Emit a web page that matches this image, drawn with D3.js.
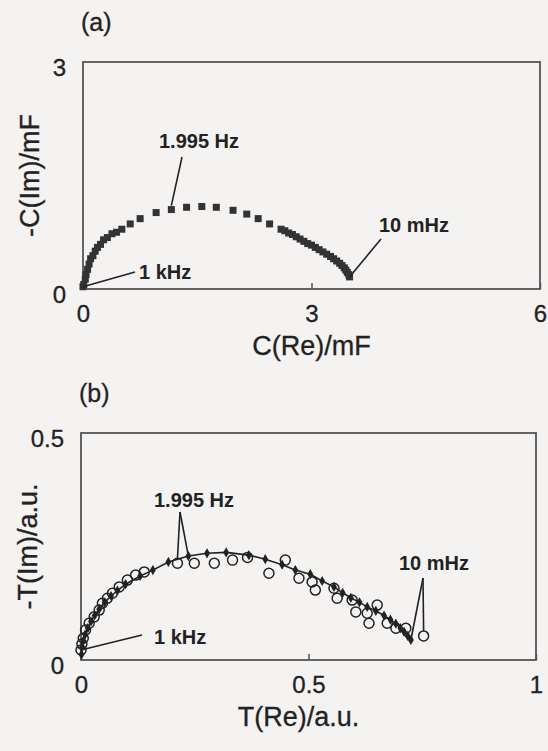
<!DOCTYPE html>
<html>
<head>
<meta charset="utf-8">
<script src="https://cdnjs.cloudflare.com/ajax/libs/d3/7.8.5/d3.min.js"></script>
<style>
    body { margin: 0; background: #f5f2f2; }
    svg { display: block; }
    text { font-family: "Liberation Sans", Arial, sans-serif; fill: #222; }
</style>
</head>
<body>
<svg id="chart" width="548" height="751"></svg>
<script>
// panel (a): complex capacitance, squares
var capRe = [0.00, 0.01, 0.03, 0.04, 0.06, 0.08, 0.10, 0.13, 0.16, 0.19, 0.23, 0.27, 0.32, 0.38,
    0.44, 0.51, 0.62, 0.75, 0.96, 1.16, 1.36, 1.56, 1.75, 1.97, 2.15, 2.30, 2.45,
    2.60, 2.65, 2.70, 2.75, 2.80, 2.85, 2.90, 2.95, 3.00, 3.05, 3.10, 3.15, 3.20, 3.25,
    3.29, 3.33, 3.37, 3.40, 3.43, 3.45, 3.47, 3.49, 3.50];
var capIm = [0.03, 0.06, 0.13, 0.19, 0.26, 0.33, 0.40, 0.44, 0.50, 0.55, 0.59, 0.65, 0.68, 0.73,
    0.75, 0.79, 0.86, 0.93, 1.01, 1.05, 1.08, 1.09, 1.08, 1.04, 0.99, 0.93, 0.86,
    0.79, 0.77, 0.74, 0.72, 0.69, 0.66, 0.63, 0.60, 0.58, 0.55, 0.52, 0.49, 0.46, 0.43,
    0.40, 0.37, 0.34, 0.31, 0.28, 0.25, 0.22, 0.19, 0.16];
var capReTicks = [0, 3, 6];
var capImTicks = [0, 3];

// panel (b): fitted curve (filled markers + line) and measured points (open circles)
var fitRe = [0.001, 0.002, 0.005, 0.009, 0.015, 0.022, 0.030, 0.040, 0.052, 0.066, 0.080, 0.098,
    0.130, 0.158, 0.192, 0.236, 0.277, 0.319, 0.369, 0.405, 0.442, 0.471, 0.504, 0.530,
    0.556, 0.575, 0.593, 0.612, 0.629, 0.648, 0.666, 0.680, 0.692, 0.702, 0.710, 0.718, 0.725];
var fitIm = [0.012, 0.028, 0.042, 0.056, 0.070, 0.085, 0.098, 0.112, 0.127, 0.141, 0.153, 0.167,
    0.185, 0.198, 0.216, 0.229, 0.235, 0.237, 0.231, 0.222, 0.210, 0.198, 0.189, 0.174,
    0.161, 0.148, 0.137, 0.127, 0.117, 0.108, 0.098, 0.089, 0.080, 0.070, 0.062, 0.053, 0.044];
var measRe = [0.000, 0.002, 0.005, 0.010, 0.018, 0.029, 0.040, 0.047, 0.058, 0.069, 0.084, 0.102,
    0.120, 0.139, 0.212, 0.249, 0.293, 0.333, 0.366, 0.413, 0.449, 0.479, 0.508, 0.515,
    0.556, 0.563, 0.596, 0.604, 0.629, 0.633, 0.651, 0.673, 0.692, 0.714, 0.753];
var measIm = [0.022, 0.035, 0.048, 0.066, 0.081, 0.095, 0.110, 0.125, 0.136, 0.147, 0.161, 0.176,
    0.187, 0.194, 0.213, 0.213, 0.213, 0.220, 0.226, 0.191, 0.220, 0.180, 0.172, 0.154,
    0.158, 0.136, 0.132, 0.106, 0.103, 0.081, 0.121, 0.081, 0.070, 0.070, 0.053];
var tReTicks = [0, 0.5, 1];
var tImTicks = [0, 0.5];

var svg = d3.select('#chart');
var ink = '#222';

function zip(a, b) {
    return a.map(function (v, i) { return [v, b[i]]; });
}

function panel(opt) {
    var x = d3.scaleLinear().domain(opt.xDomain).range([opt.left, opt.right]);
    var y = d3.scaleLinear().domain(opt.yDomain).range([opt.bottom, opt.top]);
    var g = svg.append('g').attr('class', opt.name);

    g.append('rect')
        .attr('x', opt.left).attr('y', opt.top)
        .attr('width', opt.right - opt.left).attr('height', opt.bottom - opt.top)
        .style('fill', 'none').style('stroke', '#555').style('stroke-width', 1.8);

    // inward ticks, labels set apart from the box
    var xAxis = g.append('g')
        .attr('transform', 'translate(0,' + opt.bottom + ')')
        .call(d3.axisBottom(x).tickValues(opt.xTicks).tickSize(-6).tickPadding(16)
            .tickFormat(d3.format('~g')));
    xAxis.select('.domain').remove();
    xAxis.selectAll('line').style('stroke', '#555').style('stroke-width', 1.5);
    xAxis.selectAll('text').style('font-size', '24px').style('fill', ink)
        .style('stroke', ink).style('stroke-width', 0.3);

    var yAxis = g.append('g')
        .attr('transform', 'translate(' + opt.left + ',0)')
        .call(d3.axisLeft(y).tickValues(opt.yTicks).tickSize(0).tickPadding(17)
            .tickFormat(d3.format('~g')));
    yAxis.select('.domain').remove();
    yAxis.selectAll('text').style('font-size', '24px').style('fill', ink).attr('dy', '0.55em')
        .style('stroke', ink).style('stroke-width', 0.3);

    g.append('text')
        .attr('x', (opt.left + opt.right) / 2 + opt.xTitleShift).attr('y', opt.bottom + 66)
        .attr('text-anchor', 'middle')
        .style('font-size', '27px').style('stroke', ink).style('stroke-width', 0.3)
        .text(opt.xTitle);

    g.append('text')
        .attr('transform', 'translate(' + (opt.left - 44) + ',' + ((opt.top + opt.bottom) / 2) + ') rotate(-90)')
        .attr('text-anchor', 'middle')
        .style('font-size', '27px').style('stroke', ink).style('stroke-width', 0.3)
        .text(opt.yTitle);

    g.append('text')
        .attr('x', opt.left - 2).attr('y', opt.top - 31)
        .style('font-size', '25px').style('stroke', ink).style('stroke-width', 0.3)
        .text(opt.tag);

    return { g: g, x: x, y: y };
}

function annotate(p, label, tx, ty, from, targets) {
    p.g.append('text')
        .attr('x', tx).attr('y', ty)
        .style('font-size', '20px').style('font-weight', 'bold')
        .text(label);
    targets.forEach(function (t) {
        p.g.append('line')
            .attr('x1', from[0]).attr('y1', from[1])
            .attr('x2', p.x(t[0]) + (t[2] || 0)).attr('y2', p.y(t[1]) + (t[3] || 0))
            .style('stroke', ink).style('stroke-width', 1.6);
    });
}

// ---- (a)
var pa = panel({
    name: 'cap', tag: '(a)',
    left: 83, right: 540, top: 62, bottom: 289,
    xDomain: [0, 6], yDomain: [0, 3],
    xTicks: capReTicks, yTicks: capImTicks,
    xTitle: 'C(Re)/mF', yTitle: '-C(Im)/mF', xTitleShift: 0
});

pa.g.selectAll('.sq')
    .data(zip(capRe, capIm))
    .enter().append('rect')
    .attr('class', 'sq')
    .attr('x', function (d) { return pa.x(d[0]) - 3.5; })
    .attr('y', function (d) { return pa.y(d[1]) - 3.5; })
    .attr('width', 7).attr('height', 7)
    .style('fill', '#333');

annotate(pa, '1.995 Hz', 159, 148, [182, 157], [[capRe[19], capIm[19], 0, -4]]);
annotate(pa, '10 mHz', 379, 232, [381, 239], [[capRe[capRe.length - 1], capIm[capIm.length - 1]]]);
annotate(pa, '1 kHz', 139, 279, [135, 272], [[capRe[0], capIm[0]]]);

// ---- (b)
var pb = panel({
    name: 'tau', tag: '(b)',
    left: 81, right: 536, top: 433, bottom: 660,
    xDomain: [0, 1], yDomain: [0, 0.5],
    xTicks: tReTicks, yTicks: tImTicks,
    xTitle: 'T(Re)/a.u.', yTitle: '-T(Im)/a.u.', xTitleShift: -10
});

var fitPts = zip(fitRe, fitIm);

pb.g.append('path')
    .datum(fitPts)
    .attr('d', d3.line()
        .x(function (d) { return pb.x(d[0]); })
        .y(function (d) { return pb.y(d[1]); }))
    .style('fill', 'none').style('stroke', ink).style('stroke-width', 1.6);

pb.g.selectAll('.circ')
    .data(zip(measRe, measIm))
    .enter().append('circle')
    .attr('class', 'circ')
    .attr('cx', function (d) { return pb.x(d[0]); })
    .attr('cy', function (d) { return pb.y(d[1]); })
    .attr('r', 5)
    .style('fill', 'none').style('stroke', ink).style('stroke-width', 1.5);

pb.g.selectAll('.dia')
    .data(fitPts)
    .enter().append('path')
    .attr('class', 'dia')
    .attr('transform', function (d) { return 'translate(' + pb.x(d[0]) + ',' + pb.y(d[1]) + ')'; })
    .attr('d', d3.symbol().type(d3.symbolDiamond).size(30))
    .style('fill', ink);

annotate(pb, '1.995 Hz', 154, 507, [180, 512], [[measRe[14], measIm[14], 0, -5], [fitRe[15], fitIm[15]]]);
annotate(pb, '10 mHz', 399, 570, [423, 578], [[fitRe[fitRe.length - 1], fitIm[fitIm.length - 1]], [measRe[measRe.length - 1], measIm[measIm.length - 1], 0, -5]]);
annotate(pb, '1 kHz', 154, 644, [142, 635], [[measRe[0], measIm[0]]]);
</script>
</body>
</html>
